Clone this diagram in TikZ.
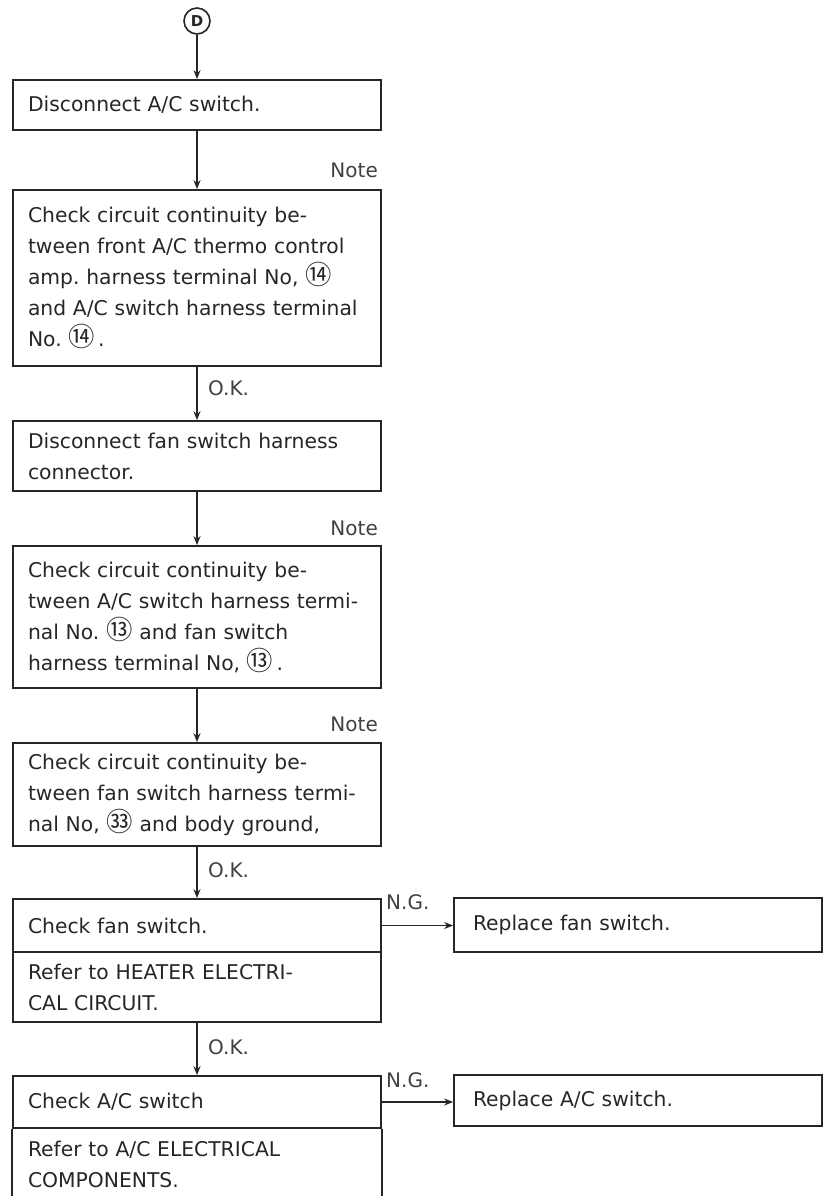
\documentclass[tikz,border=0pt]{standalone}
\usepackage{fontspec}
\setmainfont{DejaVu Sans}
\newfontfamily\cjk[Scale=1.3]{Noto Sans CJK JP}
\usetikzlibrary{arrows.meta}
\newcommand\cn[1]{{\cjk #1}}
\frenchspacing
\begin{document}
\begin{tikzpicture}[x=1pt,y=-1pt,
  box/.style={draw=black!85, line width=1.7pt, rectangle, minimum width=368pt,
    text width=338pt, align=left, inner xsep=15pt, inner ysep=0pt,
    font=\fontsize{20.3}{31}\selectfont, text=black!85},
  rbox/.style={box, text width=330pt, inner xsep=19pt},
  plain/.style={box, draw=none},
  conn/.style={draw=black!85, line width=1.7pt, -{Stealth[length=9pt,width=7pt]}},
  lbl/.style={font=\fontsize{20}{24}\selectfont, text=black!75, inner sep=0pt},
  edge/.style={draw=black!85, line width=1.7pt}
]
\useasboundingbox (0,0) rectangle (828,1196);

% start connector symbol
\node[circle, draw=black!85, line width=1.6pt, minimum size=26pt, inner sep=0pt,
      font=\bfseries\fontsize{15}{15}\selectfont, text=black!85] (d) at (197,21) {D};

% main column
\node[box, minimum height=50pt] (b1) at (197,105) {Disconnect A/C switch.};
\node[box, minimum height=176pt] (b2) at (197,278)
  {Check circuit continuity be-\\tween front A/C thermo control\\amp. harness terminal No, \cn{⑭}\\and A/C switch harness terminal\\No. \cn{⑭}\,.};
\node[box, minimum height=70pt] (b3) at (197,456)
  {Disconnect fan switch harness\\connector.};
\node[box, minimum height=142pt] (b4) at (197,617)
  {Check circuit continuity be-\\tween A/C switch harness termi-\\nal No. \cn{⑬} and fan switch\\harness terminal No, \cn{⑬}\,.};
\node[box, minimum height=103pt] (b5) at (197,794.5)
  {Check circuit continuity be-\\tween fan switch harness termi-\\nal No, \cn{㉝} and body ground,};
\node[box, minimum height=53pt] (b6a) at (197,925.5) {Check fan switch.};
\node[box, minimum height=70pt] (b6b) at (197,987) {Refer to HEATER ELECTRI-\\CAL CIRCUIT.};
\node[box, minimum height=52pt] (b7a) at (197,1102) {Check A/C switch};
\node[plain, minimum height=66pt] (b7b) at (197,1164) {Refer to A/C ELECTRICAL\\COMPONENTS.};
\draw[edge] (b7a.south west) -- ++(0,70);
\draw[edge] (b7a.south east) -- ++(0,70);

% right column
\node[rbox, minimum height=54pt] (r1) at (638,925) {Replace fan switch.};
\node[rbox, minimum height=51pt] (r2) at (638,1100.5) {Replace A/C switch.};

% connectors
\draw[conn] (d) -- (b1);
\draw[conn] (b1) -- (b2);
\draw[conn] (b2) -- (b3);
\draw[conn] (b3) -- (b4);
\draw[conn] (b4) -- (b5);
\draw[conn] (b5) -- (b6a);
\draw[conn] (b6b) -- (b7a);
\draw[conn] (b6a.east) -- (b6a.east -| r1.west);
\draw[conn] (b7a.east) -- (b7a.east -| r2.west);

% labels
\node[lbl, anchor=east] (n1) at (378,170) {Note};
\node[lbl, anchor=east] (n2) at (378,528) {Note};
\node[lbl, anchor=east] (n3) at (378,724) {Note};
\node[lbl, anchor=west] (k1) at (208,388) {O.K.};
\node[lbl, anchor=west] (k2) at (208,870) {O.K.};
\node[lbl, anchor=west] (k3) at (208,1047) {O.K.};
\node[lbl, anchor=west] (g1) at (386,902) {N.G.};
\node[lbl, anchor=west] (g2) at (386,1080) {N.G.};
\end{tikzpicture}
\end{document}
